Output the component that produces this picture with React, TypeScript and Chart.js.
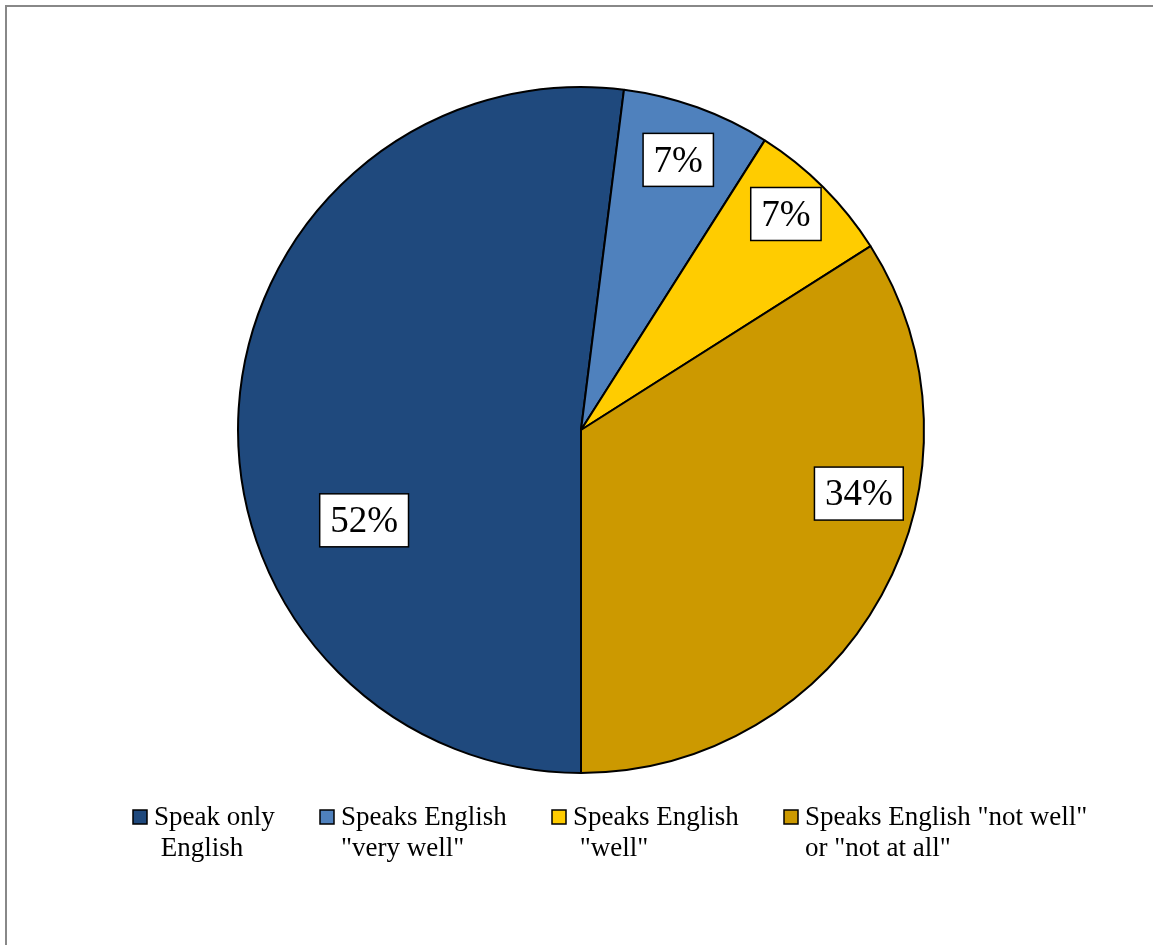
import React, { useEffect, useRef } from "react";
import { Chart, registerables } from "chart.js";

Chart.register(...registerables);

const categories: string[][] = [
  ["Speak only", " English"],
  ["Speaks English", "\"very well\""],
  ["Speaks English", " \"well\""],
  ["Speaks English \"not well\"", "or \"not at all\""],
];
const values: number[] = [52, 7, 7, 34];
const valueLabels: string[] = ["52%", "7%", "7%", "34%"];
const colors: string[] = ["#1F497D", "#4F81BD", "#FFCC00", "#CC9900"];

// label placement within each slice (fraction along the arc, fraction of radius)
const labelAngleFrac: number[] = [0.36, 0.5, 0.44, 0.37];
const labelRadiusFrac: number[] = [0.685, 0.837, 0.868, 0.831];

// legend column left edges (layout)
const legendColumnX: number[] = [133, 320, 552, 784];

const FONT = "'Liberation Serif', 'Times New Roman', serif";

const decorPlugin = {
  id: "decor",
  beforeDraw(chart: any) {
    const ctx = chart.ctx;
    ctx.save();
    ctx.fillStyle = "#ffffff";
    ctx.fillRect(0, 0, chart.width, chart.height);
    ctx.strokeStyle = "#888888";
    ctx.lineWidth = 2;
    ctx.beginPath();
    ctx.moveTo(6, chart.height + 5);
    ctx.lineTo(6, 6);
    ctx.lineTo(chart.width + 5, 6);
    ctx.stroke();
    ctx.restore();
  },
  afterDraw(chart: any) {
    const ctx = chart.ctx;
    const meta = chart.getDatasetMeta(0);
    ctx.save();
    // data labels
    ctx.font = `37px ${FONT}`;
    ctx.textAlign = "center";
    ctx.textBaseline = "middle";
    meta.data.forEach((arc: any, i: number) => {
      const { x, y, startAngle, endAngle, outerRadius } = arc.getProps(
        ["x", "y", "startAngle", "endAngle", "outerRadius"],
        true
      );
      const a = startAngle + (endAngle - startAngle) * labelAngleFrac[i];
      const r = outerRadius * labelRadiusFrac[i];
      const cx = x + Math.cos(a) * r;
      const cy = y + Math.sin(a) * r;
      const text = valueLabels[i];
      const tw = ctx.measureText(text).width;
      const w = tw + 21;
      const h = 53;
      ctx.fillStyle = "#ffffff";
      ctx.fillRect(cx - w / 2, cy - h / 2, w, h);
      ctx.strokeStyle = "#000000";
      ctx.lineWidth = 1.5;
      ctx.strokeRect(cx - w / 2, cy - h / 2, w, h);
      ctx.fillStyle = "#000000";
      ctx.fillText(text, cx, cy + 2);
    });

    // legend
    ctx.font = `27px ${FONT}`;
    ctx.textAlign = "left";
    ctx.textBaseline = "middle";
    const box = 14;
    const gap = 7;
    const ly = 817;
    const lineH = 31;
    categories.forEach((lines, i) => {
      const lx = legendColumnX[i];
      ctx.fillStyle = colors[i];
      ctx.fillRect(lx, ly - box / 2, box, box);
      ctx.strokeStyle = "#000000";
      ctx.lineWidth = 1.5;
      ctx.strokeRect(lx, ly - box / 2, box, box);
      ctx.fillStyle = "#000000";
      lines.forEach((line, j) => {
        ctx.fillText(line, lx + box + gap, ly + j * lineH + 1);
      });
    });
    ctx.restore();
  },
};

export default function App() {
  const ref = useRef<HTMLCanvasElement | null>(null);
  useEffect(() => {
    if (!ref.current) return;
    const chart = new Chart(ref.current, {
      type: "pie",
      data: {
        labels: categories.map((c) => c.map((s) => s.trim()).join(" ")),
        datasets: [
          {
            data: values,
            backgroundColor: colors,
            borderColor: "#000000",
            borderWidth: 2,
          },
        ],
      },
      options: {
        responsive: false,
        animation: false,
        rotation: 180,
        radius: 343,
        layout: { padding: { left: 9, right: 0, top: 0, bottom: 85 } },
        plugins: {
          legend: { display: false },
          tooltip: { enabled: false },
        },
      },
      plugins: [decorPlugin],
    });
    return () => chart.destroy();
  }, []);
  return (
    <div style={{ position: "absolute", left: 0, top: 0, width: 1153, height: 945 }}>
      <canvas ref={ref} width={1153} height={945} />
    </div>
  );
}
